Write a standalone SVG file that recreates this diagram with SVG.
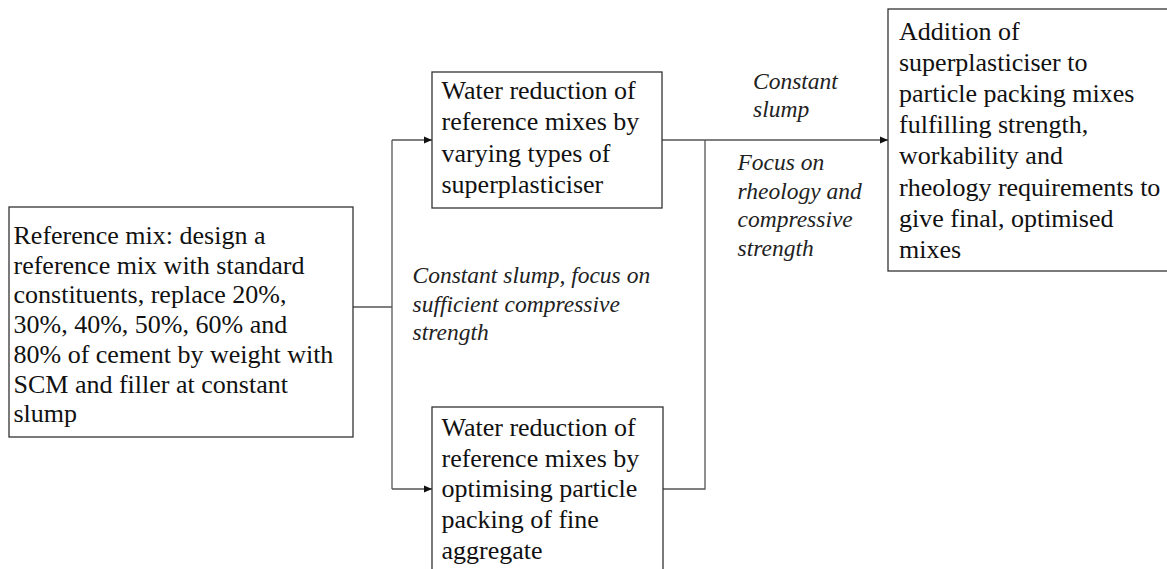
<svg xmlns="http://www.w3.org/2000/svg" width="1167" height="569" viewBox="0 0 1167 569">
<defs>
<style>
.box{fill:#fff;stroke:#333;stroke-width:1.3}
.t{font-size:26px;fill:#111}
.i{font-size:23.5px;font-style:italic;fill:#222}
.c{fill:none;stroke:#555;stroke-width:1.3}
</style>
<marker id="ah" viewBox="0 0 8 8" refX="8" refY="4" markerWidth="8" markerHeight="8" markerUnits="userSpaceOnUse" orient="auto">
<path d="M0,0.5 L8,4 L0,7.5 Z" fill="#111"/>
</marker>
</defs>
<rect width="1167" height="569" fill="#fff"/>
<g id="connectors">
<polyline class="c" points="353,307 392,307"/>
<polyline class="c" points="392,140 392,489"/>
<polyline class="c" points="392,140 432,140" marker-end="url(#ah)"/>
<polyline class="c" points="392,489 432,489" marker-end="url(#ah)"/>
<polyline class="c" points="662,140 888,140" marker-end="url(#ah)"/>
<polyline class="c" points="663,489 705,489 705,140"/>
</g>
<g font-family="Liberation Serif, Times New Roman, serif">
<g id="node-reference">
<rect class="box" x="9" y="207" width="344" height="230"/>
<text class="t">
<tspan x="13.5" y="244">Reference mix: design a</tspan>
<tspan x="13.5" y="273.7">reference mix with standard</tspan>
<tspan x="13.5" y="303.4">constituents, replace 20%,</tspan>
<tspan x="13.5" y="333.1">30%, 40%, 50%, 60% and</tspan>
<tspan x="13.5" y="362.8">80% of cement by weight with</tspan>
<tspan x="13.5" y="392.5">SCM and filler at constant</tspan>
<tspan x="13.5" y="422.2">slump</tspan>
</text>
</g>
<g id="node-superplasticiser">
<rect class="box" x="432" y="72" width="230" height="136"/>
<text class="t">
<tspan x="441.5" y="98.5">Water reduction of</tspan>
<tspan x="441.5" y="130">reference mixes by</tspan>
<tspan x="441.5" y="161.5">varying types of</tspan>
<tspan x="441.5" y="193">superplasticiser</tspan>
</text>
</g>
<g id="node-packing">
<rect class="box" x="432" y="407" width="231" height="180"/>
<text class="t">
<tspan x="441.5" y="436">Water reduction of</tspan>
<tspan x="441.5" y="466.7">reference mixes by</tspan>
<tspan x="441.5" y="497.4">optimising particle</tspan>
<tspan x="441.5" y="528.1">packing of fine</tspan>
<tspan x="441.5" y="558.8">aggregate</tspan>
</text>
</g>
<g id="node-final">
<rect class="box" x="888" y="9" width="290" height="262"/>
<text class="t">
<tspan x="899" y="39.5">Addition of</tspan>
<tspan x="899" y="70.7">superplasticiser to</tspan>
<tspan x="899" y="101.9">particle packing mixes</tspan>
<tspan x="899" y="133.1">fulfilling strength,</tspan>
<tspan x="899" y="164.3">workability and</tspan>
<tspan x="899" y="195.5">rheology requirements to</tspan>
<tspan x="899" y="226.7">give final, optimised</tspan>
<tspan x="899" y="257.9">mixes</tspan>
</text>
</g>
<g id="labels">
<text class="i">
<tspan x="412.5" y="283">Constant slump, focus on</tspan>
<tspan x="412.5" y="311.5">sufficient compressive</tspan>
<tspan x="412.5" y="340">strength</tspan>
</text>
<text class="i">
<tspan x="753" y="89">Constant</tspan>
<tspan x="753" y="117">slump</tspan>
</text>
<text class="i">
<tspan x="737.5" y="170">Focus on</tspan>
<tspan x="737.5" y="198.5">rheology and</tspan>
<tspan x="737.5" y="227">compressive</tspan>
<tspan x="737.5" y="255.5">strength</tspan>
</text>
</g>
</g>
</svg>
